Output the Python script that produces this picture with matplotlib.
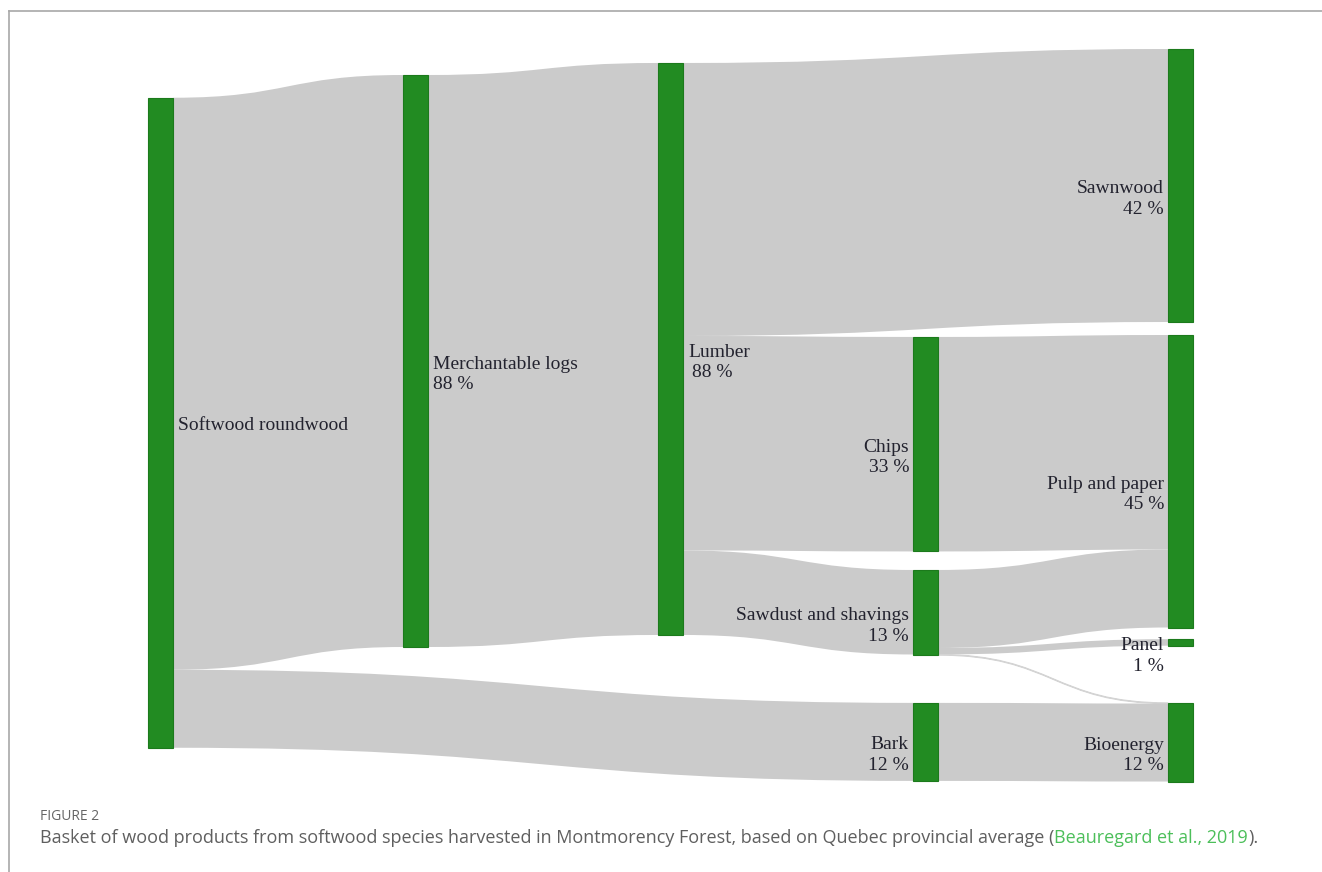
import matplotlib
matplotlib.use("Agg")
import matplotlib.pyplot as plt
from matplotlib.patches import Rectangle, PathPatch
from matplotlib.path import Path
from matplotlib.lines import Line2D

# --- data -------------------------------------------------------------
NODES = ["Softwood roundwood", "Merchantable logs", "Lumber", "Chips",
         "Sawdust and shavings", "Bark", "Sawnwood", "Pulp and paper",
         "Panel", "Bioenergy"]
NODE_PCT = [None, 88, 88, 33, 13, 12, 42, 45, 1, 12]

LINK_SRC = [0, 0, 1, 2, 2, 2, 3, 4, 4, 4, 5]
LINK_TGT = [1, 5, 2, 6, 3, 4, 7, 7, 8, 9, 9]
LINK_VAL = [88, 12, 88, 42, 33, 13, 33, 12, 1, 0.1, 12]

# --- layout (column and top of each node, in % units) ------------------
NODE_COL = [0, 1, 2, 3, 3, 3, 4, 4, 4, 4]
NODE_TOP = [7.5, 4.0, 2.15, 44.3, 80.15, 100.6, 0.0, 44.0, 90.8, 100.6]

W, H = 1322, 872
PX_COL = 255.0     # pixels between columns
PX_PCT = 6.5       # pixels per percent
X0, Y0 = 148, 49   # pixel position of column 0 / 0 %
NODE_W = 25 / PX_COL

FLOW_C = "#cbcbcb"
NODE_C = "#228b22"
TEXT_C = "#23232f"

fig = plt.figure(figsize=(W / 100, H / 100), dpi=100)
ax = fig.add_axes([0, 0, 1, 1])
ax.set_xlim(-X0 / PX_COL, (W - X0) / PX_COL)
ax.set_ylim((H - Y0) / PX_PCT, -Y0 / PX_PCT)
ax.axis("off")

# node sizes
n = len(NODES)
inflow = [0.0] * n
outflow = [0.0] * n
for s, t, v in zip(LINK_SRC, LINK_TGT, LINK_VAL):
    outflow[s] += v
    inflow[t] += v
node_val = [max(a, b) for a, b in zip(inflow, outflow)]

# flows
out_off = list(NODE_TOP)
in_off = list(NODE_TOP)
for s, t, v in zip(LINK_SRC, LINK_TGT, LINK_VAL):
    xa = NODE_COL[s] + NODE_W
    xb = NODE_COL[t]
    xm = (xa + xb) / 2
    ya0, ya1 = out_off[s], out_off[s] + v
    yb0, yb1 = in_off[t], in_off[t] + v
    out_off[s] = ya1
    in_off[t] = yb1
    verts = [(xa, ya0), (xm, ya0), (xm, yb0), (xb, yb0),
             (xb, yb1), (xm, yb1), (xm, ya1), (xa, ya1), (xa, ya0)]
    codes = [Path.MOVETO, Path.CURVE4, Path.CURVE4, Path.CURVE4,
             Path.LINETO, Path.CURVE4, Path.CURVE4, Path.CURVE4, Path.CLOSEPOLY]
    lw = 0.8 if v < 0.5 else 0
    ax.add_patch(PathPatch(Path(verts, codes), facecolor=FLOW_C,
                           edgecolor="#d4d4d4", lw=lw, zorder=1))

# nodes + labels
for i, name in enumerate(NODES):
    col, top, val = NODE_COL[i], NODE_TOP[i], node_val[i]
    ax.add_patch(Rectangle((col, top), NODE_W, val, facecolor=NODE_C,
                           edgecolor="#1c7a1c", lw=0.8, zorder=2))
    yc = top + val / 2
    if col < 3:
        xt, ha, dx = col + NODE_W, "left", 5
    else:
        xt, ha, dx = col, "right", -4
    ax.annotate(name, (xt, yc), xytext=(dx * 0.72, -2.2), textcoords="offset points",
                ha=ha, va="center", fontsize=14, family="Liberation Serif",
                color=TEXT_C, zorder=3)
    if NODE_PCT[i] is not None:
        pdx = dx * 0.72 + (3 if col == 2 else 0)
        ax.annotate(f"{NODE_PCT[i]} %", (xt, yc), xytext=(pdx, -17),
                    textcoords="offset points", ha=ha, va="center",
                    fontsize=14, family="Liberation Serif",
                    color=TEXT_C, zorder=3)

# frame lines
fig.add_artist(Line2D([9 / W, 1], [1 - 11 / H, 1 - 11 / H], color="#a8a8a8", lw=1.2))
fig.add_artist(Line2D([9 / W, 9 / W], [1 - 11 / H, 0], color="#a8a8a8", lw=1.2))

# caption
fig.text(40 / W, 1 - 816 / H, "FIGURE 2", fontsize=10, family="Open Sans",
         color="#666666", va="center")
cap = ("Basket of wood products from softwood species harvested in Montmorency "
       "Forest, based on Quebec provincial average (")
t1 = fig.text(40 / W, 1 - 838 / H, cap, fontsize=13, family="Open Sans",
              color="#5f5f5f", va="center")
fig.canvas.draw()
bb = t1.get_window_extent()
t2 = fig.text(bb.x1 / W, 1 - 838 / H, "Beauregard et al., 2019", fontsize=13,
              family="Open Sans", color="#4cbf5a", va="center")
fig.canvas.draw()
bb2 = t2.get_window_extent()
fig.text(bb2.x1 / W, 1 - 838 / H, ").", fontsize=13, family="Open Sans",
         color="#5f5f5f", va="center")

fig.savefig("out.png", dpi=100)
